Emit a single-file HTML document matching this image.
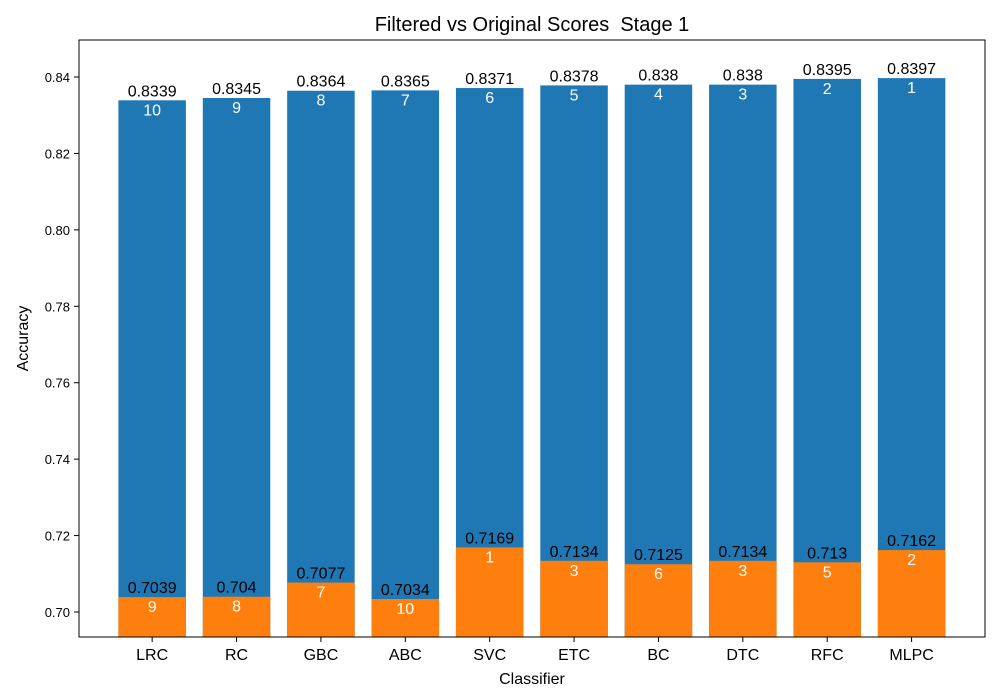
<!DOCTYPE html>
<html><head><meta charset="utf-8"><style>
body{margin:0;background:#fff;}
svg{display:block;font-family:"Liberation Sans",sans-serif;}
</style></head><body>
<svg id="chart" width="1000" height="700"></svg>
<script>
const categories=["LRC","RC","GBC","ABC","SVC","ETC","BC","DTC","RFC","MLPC"];
const originalScores=[0.8339,0.8345,0.8364,0.8365,0.8371,0.8378,0.838,0.838,0.8395,0.8397];
const originalRanks=[10,9,8,7,6,5,4,3,2,1];
const filteredScores=[0.7039,0.704,0.7077,0.7034,0.7169,0.7134,0.7125,0.7134,0.713,0.7162];
const filteredRanks=[9,8,7,10,1,3,6,3,5,2];
const yTicks=[0.70,0.72,0.74,0.76,0.78,0.80,0.82,0.84];

const svg=document.getElementById('chart');
const NS='http://www.w3.org/2000/svg';
const L=79,R=985,T=40,B=637;
const yMin=0.69346,yMax=0.84968;
const xMin=-0.867,xMax=9.87;
const sx=v=>L+(v-xMin)/(xMax-xMin)*(R-L);
const sy=v=>B-(v-yMin)/(yMax-yMin)*(B-T);
const bw=0.8*(R-L)/(xMax-xMin);
function el(tag,attrs,text){const e=document.createElementNS(NS,tag);for(const k in attrs)e.setAttribute(k,attrs[k]);if(text!==undefined)e.textContent=text;svg.appendChild(e);return e;}
function fmt(v){return String(+v.toFixed(4));}

categories.forEach((c,i)=>{
  const x=sx(i)-bw/2;
  let b=el('rect',{x:x,y:sy(originalScores[i]),width:bw,height:B-sy(originalScores[i]),fill:'#1f77b4'});
  
  
  let o=el('rect',{x:x,y:sy(filteredScores[i]),width:bw,height:B-sy(filteredScores[i]),fill:'#ff7f0e'});
  
  
});
categories.forEach((c,i)=>{
  const cx=sx(i);
  let t1=el('text',{x:cx,y:sy(originalScores[i])-4,'text-anchor':'middle','font-size':16,fill:'#000'},fmt(originalScores[i]));
  
  
  let r1=el('text',{x:cx,y:sy(originalScores[i])+15,'text-anchor':'middle','font-size':16,fill:'#fff'},originalRanks[i]);
  
  
  let t2=el('text',{x:cx,y:sy(filteredScores[i])-4,'text-anchor':'middle','font-size':16,fill:'#000'},fmt(filteredScores[i]));
  
  
  let r2=el('text',{x:cx,y:sy(filteredScores[i])+15,'text-anchor':'middle','font-size':16,fill:'#fff'},filteredRanks[i]);
  
  
  let tk=el('line',{x1:cx,x2:cx,y1:B,y2:B+5,stroke:'#000','stroke-width':1});
  
  
  let tl=el('text',{x:cx,y:B+23,'text-anchor':'middle','font-size':16},c);
  
  
});
yTicks.forEach(v=>{
  const y=sy(v);
  let tk=el('line',{x1:L-5,x2:L,y1:y,y2:y,stroke:'#000','stroke-width':1});
  
  
  let tl=el('text',{x:L-9,y:y+5,'text-anchor':'end','font-size':13},v.toFixed(2));
  
  
});
let frame=el('rect',{x:L,y:T,width:R-L,height:B-T,fill:'none',stroke:'#000','stroke-width':1});


let title=el('text',{x:(L+R)/2,y:31,'text-anchor':'middle','font-size':20},'Filtered vs Original Scores \u00a0Stage 1');


let xt=el('text',{x:(L+R)/2,y:684,'text-anchor':'middle','font-size':16},'Classifier');


let yt=el('text',{x:28,y:(T+B)/2,'text-anchor':'middle','font-size':16,transform:'rotate(-90 28 '+((T+B)/2)+')'},'Accuracy');


</script>
</body></html>
